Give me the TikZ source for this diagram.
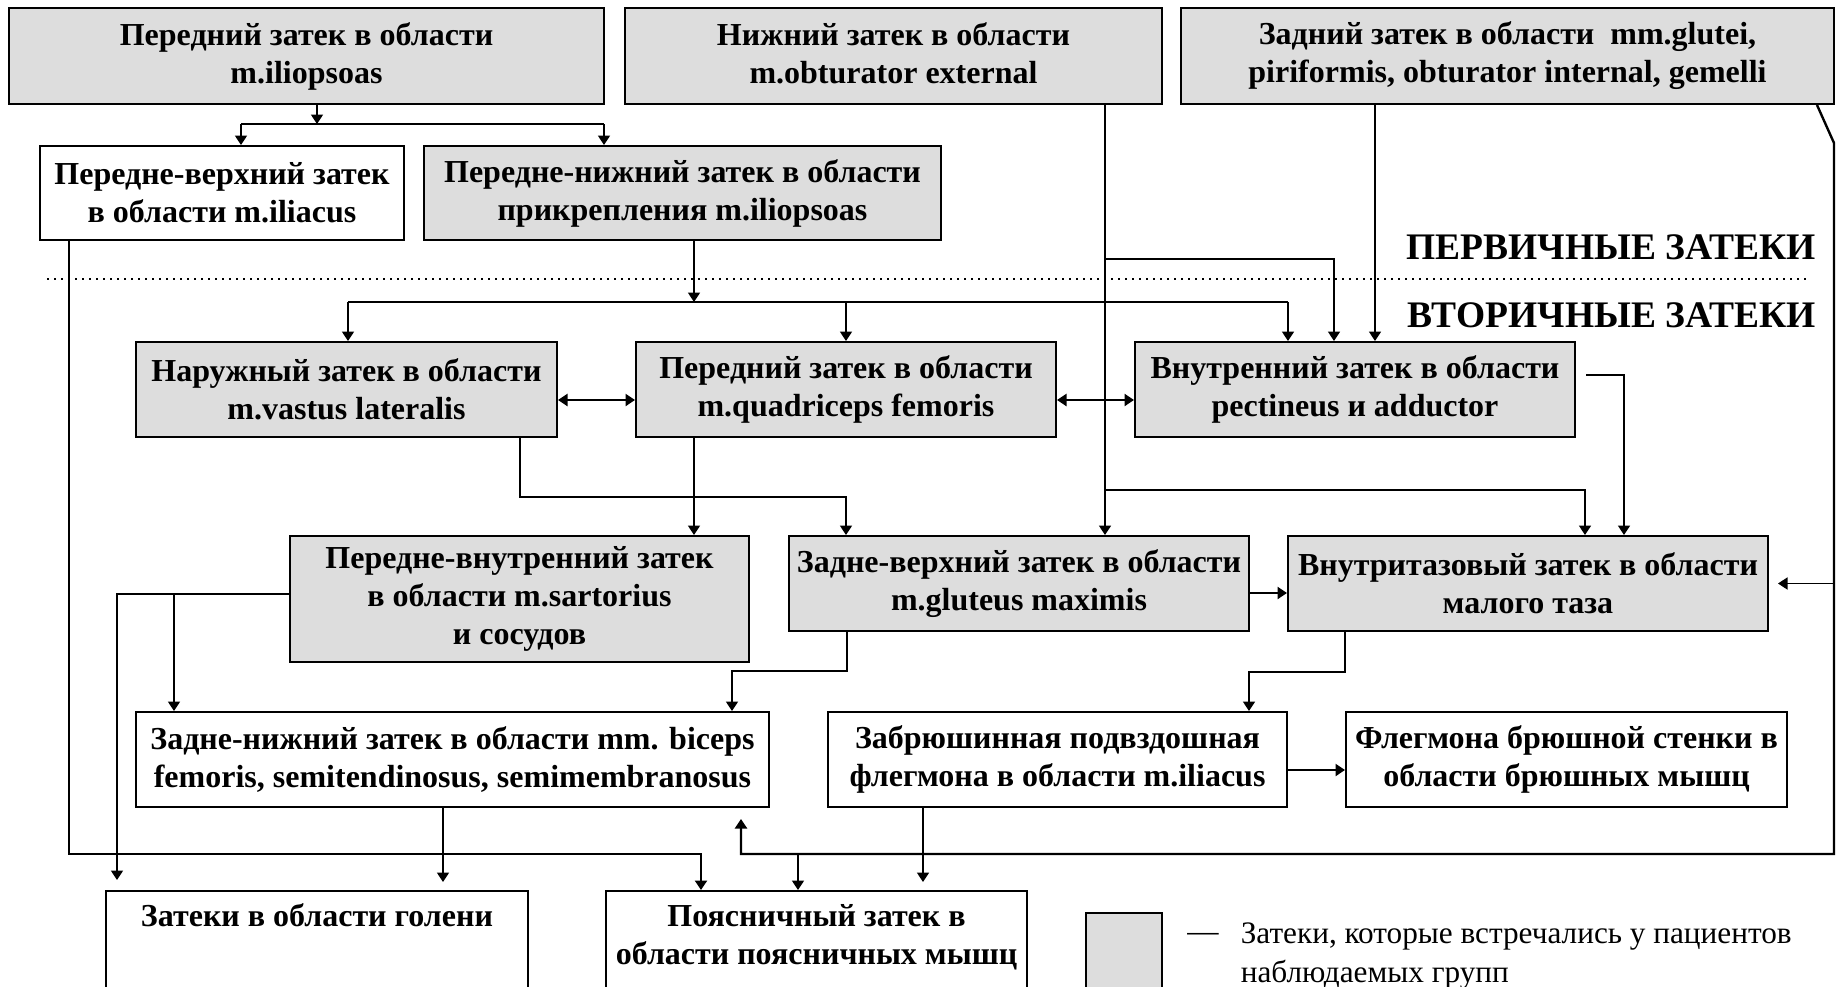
\documentclass[tikz,border=0pt]{standalone}
\usepackage{fontspec}
\setmainfont{Liberation Serif}
\usepackage{tikz}
\usetikzlibrary{arrows,arrows.meta,positioning}
\definecolor{zatekgray}{RGB}{221,221,221}
\tikzset{zatek/.style={draw,line width=0.8pt,align=center,inner sep=2pt,font={\fontsize{12.8}{15.2}\selectfont\bfseries}},
    grayzatek/.style={zatek,fill=zatekgray},
    whitezatek/.style={zatek,fill=white},
    heading/.style={anchor=east,inner sep=0pt,font={\fontsize{15}{18}\selectfont\bfseries}},
    conn/.style={line width=0.7pt},
    frameconn/.style={line width=0.95pt}
}

\begin{document}
\begin{tikzpicture}[x=0.4pt,y=-0.4pt,>={Triangle[length=3.8pt,width=4.8pt]}]
\useasboundingbox (0,0) rectangle (1836,987);

%% primary
\node (perIlio) [grayzatek,minimum width=238pt,minimum height=38.4pt] at (306.5,56) {Передний затек в области\\m.iliopsoas};
\node (nizhObt) [grayzatek,minimum width=214.8pt,minimum height=38.4pt] at (893.5,56) {Нижний затек в области\\m.obturator external\vphantom{p}};
\node (zadGlut) [grayzatek,minimum width=261.2pt,minimum height=38.4pt] at (1507.5,56) {Задний затек в области\ \ mm.glutei,\\piriformis, obturator internal, gemelli};
\node (pvIliac) [whitezatek,minimum width=145.6pt,minimum height=37.6pt] at (222,193) {Передне-верхний затек\\в области m.iliacus};
\node (pnIlio) [grayzatek,minimum width=206.8pt,minimum height=37.6pt] at (682.5,193) {Передне-нижний затек в области\\прикрепления m.iliopsoas};

\draw [dotted,line width=0.8pt] (47,279) -- (1810,279);
\node (perv) [heading] at (1816,247) {ПЕРВИЧНЫЕ ЗАТЕКИ};
\node (vtor) [heading] at (1816,315) {ВТОРИЧНЫЕ ЗАТЕКИ};

%% secondary
\node (naruzh) [grayzatek,minimum width=168.4pt,minimum height=38pt] at (346.5,389.5) {Наружный затек в области\\m.vastus lateralis};
\node (perQuad) [grayzatek,minimum width=168pt,minimum height=38pt] at (846,389.5) {Передний затек в области\\m.quadriceps femoris};
\node (vnutPect) [grayzatek,minimum width=176pt,minimum height=38pt] at (1355,389.5) {Внутренний затек в области\\pectineus и adductor};

\node (pvnSart) [grayzatek,minimum width=183.6pt,minimum height=50.4pt] at (519.5,599) {Передне-внутренний затек\\в области m.sartorius\\и сосудов};
\node (zvGlut) [grayzatek,minimum width=184pt,minimum height=38pt] at (1019,583.5) {Задне-верхний затек в области\\m.gluteus maximis};
\node (vnutTaz) [grayzatek,minimum width=192pt,minimum height=38pt] at (1528,583.5) {Внутритазовый затек в области\\малого таза};

\node (znBiceps) [whitezatek,minimum width=253.2pt,minimum height=38pt] at (452.5,759.5) {Задне-нижний затек в области mm. biceps\\femoris, semitendinosus, semimembranosus};
\node (zabrIliac) [whitezatek,minimum width=183.6pt,minimum height=38pt] at (1057.5,759.5) {Забрюшинная подвздошная\\флегмона в области m.iliacus};
\node (flegm) [whitezatek,minimum width=176.4pt,minimum height=38pt] at (1566.5,759.5) {Флегмона брюшной стенки в\\области брюшных мышц};

\node (goleni) [whitezatek,minimum width=168.8pt,minimum height=49.6pt] at (317,953) {Затеки в области голени\\~\\~};
\node (poyasn) [whitezatek,minimum width=168.4pt,minimum height=49.6pt] at (816.5,953) {Поясничный затек в\\области поясничных мышц\\~};

%% legend
\node (legbox) [draw,fill=zatekgray,line width=0.8pt,minimum width=30.4pt,minimum height=40pt] at (1124,963) {};
\node (legdash) [font=\fontsize{12.5}{15.6}\selectfont] at (1203,937) {—};
\node (legtext) [anchor=west,align=left,font=\fontsize{12.5}{15.6}\selectfont] at (1232,956) {Затеки, которые встречались у пациентов\\наблюдаемых групп};

%% connectors: primary
\coordinate (jTop) at (317,124);
\coordinate (jTopL) at (241,124);
\coordinate (jTopR) at (604,124);
\draw [->,conn] (perIlio.south -| jTop) -- (jTop);
\draw [frameconn] (jTopL) -- (jTopR);
\draw [->,conn] (jTopL) -- (jTopL |- pvIliac.north);
\draw [->,conn] (jTopR) -- (jTopR |- pnIlio.north);

\coordinate (jMid) at (694,302);
\coordinate (jMidL) at (348,302);
\coordinate (jMidQ) at (846,302);
\coordinate (jMidR) at (1288,302);
\draw [->,conn] (pnIlio.south -| jMid) -- (jMid);
\draw [frameconn] (jMidL) -- (jMidR);
\draw [->,conn] (jMidL) -- (jMidL |- naruzh.north);
\draw [->,conn] (jMidQ) -- (jMidQ |- perQuad.north);
\draw [->,conn] (jMidR) -- (jMidR |- vnutPect.north);

\coordinate (jObt) at (1105,259);
\coordinate (jObtR) at (1334,259);
\coordinate (jObtL) at (1105,490);
\coordinate (jObtT) at (1585,490);
\draw [->,conn] (nizhObt.south -| jObt) -- (zvGlut.north -| jObt);
\draw [->,conn] (jObt) -- (jObtR) -- (jObtR |- vnutPect.north);
\draw [->,conn] (jObtL) -- (jObtT) -- (jObtT |- vnutTaz.north);

\coordinate (jGlut) at (1375,200);
\draw [->,conn] (zadGlut.south -| jGlut) -- (vnutPect.north -| jGlut);

% outer frame
\coordinate (jDiag) at (1834,143);
\coordinate (jRight) at (1834,854);
\coordinate (jBotR) at (741,854);
\coordinate (jPoy) at (798,854);
\draw [->,frameconn,shorten >=4.4pt] ([xshift=-7.2pt]zadGlut.south east) -- (jDiag) -- (jRight) -- (jBotR) -- (jBotR |- znBiceps.south);
\draw [->,conn] (jPoy) -- (jPoy |- poyasn.north);
\draw [->,conn,shorten >=3.6pt] (jRight |- vnutTaz.east) -- (vnutTaz.east);

\coordinate (jLeft) at (69,854);
\coordinate (jBot) at (701,854);
\draw [->,frameconn] (pvIliac.south -| jLeft) -- (jLeft) -- (jBot) -- (jBot |- poyasn.north);

%% connectors: secondary
\draw [<->,frameconn] ([yshift=-4.2pt]naruzh.east) -- ([yshift=-4.2pt]perQuad.west);
\draw [<->,frameconn] ([yshift=-4.2pt]perQuad.east) -- ([yshift=-4.2pt]vnutPect.west);

\coordinate (jPect) at (1624,375);
\draw [->,conn] ([xshift=4pt,yshift=5.8pt]vnutPect.east) -- (jPect) -- (jPect |- vnutTaz.north);

\coordinate (jNar) at (520,497);
\coordinate (jNarR) at (846,497);
\draw [->,conn] (naruzh.south -| jNar) -- (jNar) -- (jNarR) -- (jNarR |- zvGlut.north);
\draw [->,conn] (perQuad.south -| jMid) -- (pvnSart.north -| jMid);

\draw [->,frameconn] ([yshift=-3.8pt]zvGlut.east) -- ([yshift=-3.8pt]vnutTaz.west);

\coordinate (jSart) at (117,594);
\coordinate (jSartB) at (174,594);
\draw [->,conn,shorten >=4pt] (pvnSart.west |- jSart) -- (jSart) -- (jSart |- goleni.north);
\draw [->,conn] (jSartB) -- (jSartB |- znBiceps.north);

\coordinate (jZv) at (847,671);
\coordinate (jZvL) at (732,671);
\draw [->,conn] (zvGlut.south -| jZv) -- (jZv) -- (jZvL) -- (jZvL |- znBiceps.north);

\coordinate (jTaz) at (1345,672);
\coordinate (jTazL) at (1249,672);
\draw [->,conn] (vnutTaz.south -| jTaz) -- (jTaz) -- (jTazL) -- (jTazL |- zabrIliac.north);

\draw [->,frameconn] ([yshift=-4.2pt]zabrIliac.east) -- ([yshift=-4.2pt]flegm.west);

\coordinate (jBic) at (443,850);
\draw [->,conn,shorten >=3.2pt] (znBiceps.south -| jBic) -- (goleni.north -| jBic);
\coordinate (jZabr) at (923,850);
\draw [->,conn,shorten >=3.2pt] (zabrIliac.south -| jZabr) -- (poyasn.north -| jZabr);

\end{tikzpicture}
\end{document}
